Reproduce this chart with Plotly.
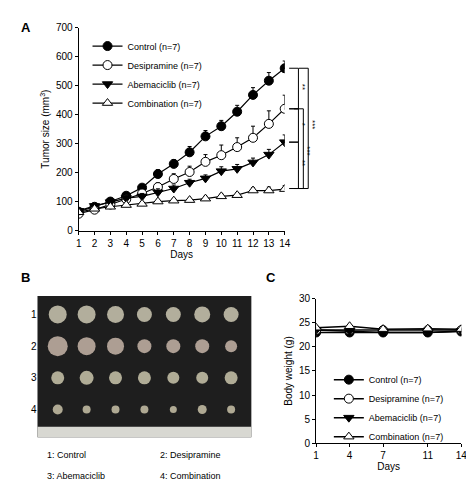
import plotly.graph_objects as go

days = list(range(1, 15))
control = [65, 82, 100, 120, 148, 195, 230, 270, 325, 360, 410, 468, 517, 560]
control_err = [8, 8, 8, 10, 10, 15, 15, 20, 20, 20, 22, 25, 28, 25]
desip = [58, 72, 90, 108, 128, 150, 178, 202, 237, 260, 288, 320, 368, 420]
desip_err = [8, 8, 8, 10, 12, 15, 18, 20, 25, 35, 32, 40, 45, 47]
abema = [68, 85, 98, 112, 118, 132, 145, 165, 180, 205, 213, 235, 262, 305]
abema_err = [8, 8, 8, 10, 10, 12, 12, 12, 12, 15, 15, 15, 18, 25]
comb = [63, 75, 82, 88, 92, 100, 103, 105, 110, 118, 122, 138, 138, 143]
comb_err = [6, 6, 6, 6, 6, 6, 6, 6, 8, 8, 8, 10, 12, 12]

bw_days = [1, 4, 7, 11, 14]
bw_control = [23.0, 23.0, 23.0, 23.0, 23.2]
bw_desip = [23.5, 23.5, 23.5, 23.5, 23.5]
bw_abema = [23.5, 23.3, 23.0, 23.0, 23.3]
bw_comb = [24.0, 24.3, 23.7, 23.8, 23.7]

names = ["Control (n=7)", "Desipramine (n=7)", "Abemaciclib (n=7)", "Combination (n=7)"]
symbols = ["circle", "circle", "triangle-down", "triangle-up"]
fills = ["black", "white", "black", "white"]

tumor_cols = [1, 2, 3, 4, 5, 6, 7]
tumor_sizes = [
    [18, 18, 17, 15, 15, 16, 15],
    [20, 18, 17, 14, 14, 14, 12],
    [13, 14, 13, 13, 12, 12, 13],
    [10, 8, 8, 8, 7, 9, 8],
]
tumor_colors = ["#f1ebd2", "#ead4c4", "#eee8c9", "#ece4c4"]
captions = ["1: Control", "2: Desipramine", "3: Abemaciclib", "4: Combination"]

F = "Liberation Sans, Arial, sans-serif"
fig = go.Figure()

series = [(control, control_err), (desip, desip_err), (abema, abema_err), (comb, comb_err)]
for i, (v, e) in enumerate(series):
    fig.add_trace(go.Scatter(x=days, y=v, name=names[i], mode="lines+markers",
        error_y=dict(type="data", array=e, symmetric=False, arrayminus=[0]*len(e), color="black", thickness=1, width=2),
        line=dict(color="black", width=1.2),
        marker=dict(symbol=symbols[i], size=9, color=fills[i], line=dict(color="black", width=1)),
        xaxis="x", yaxis="y", legend="legend"))

for i, v in enumerate([bw_control, bw_desip, bw_abema, bw_comb]):
    fig.add_trace(go.Scatter(x=bw_days, y=v, name=names[i], mode="lines+markers",
        line=dict(color="black", width=1.5),
        marker=dict(symbol=symbols[i], size=9, color=fills[i], line=dict(color="black", width=1)),
        xaxis="x2", yaxis="y2", legend="legend2"))

for r, sizes in enumerate(tumor_sizes):
    fig.add_trace(go.Scatter(x=tumor_cols, y=[r + 1]*7, mode="markers", showlegend=False,
        marker=dict(size=sizes, color=tumor_colors[r], line=dict(width=0)),
        xaxis="x3", yaxis="y3"))

shapes = [
    dict(type="rect", xref="x3 domain", yref="y3 domain", x0=0, x1=1, y0=0, y1=1,
         fillcolor="#1e1e1e", line=dict(width=0), layer="below"),
    dict(type="rect", xref="x3 domain", yref="y3", x0=0, x1=1, y0=4.54, y1=4.877,
         fillcolor="#d8d8d2", line=dict(width=0)),
]
def br(xp, y0, y1):
    shapes.append(dict(type="line", xref="paper", yref="y", x0=xp, x1=xp, y0=y0, y1=y1, line=dict(width=1, color="black")))
    for yy in (y0, y1):
        shapes.append(dict(type="line", xref="paper", yref="y", x0=xp - 0.02, x1=xp, y0=yy, y1=yy, line=dict(width=1, color="black")))
br(293/474, 420, 560); br(293/474, 305, 420); br(293/474, 145, 305)
br(298/474, 145, 420); br(303/474, 145, 560)

ann = []
def t(x, y, s, size=10, bold=False, angle=0):
    ann.append(dict(x=x/474, y=1 - y/488, xref="paper", yref="paper", text=("<b>%s</b>" % s) if bold else s,
                    showarrow=False, font=dict(size=size, family=F, color="black"), textangle=angle,
                    xanchor="left" if angle == 0 else "center", yanchor="middle"))
t(8, 14, "A", 13, True); t(8, 270, "B", 13, True); t(258, 270, "C", 13, True)
t(35, 452, captions[0], 9); t(150, 452, captions[1], 9); t(35, 474, captions[2], 9); t(150, 474, captions[3], 9)
for xp, yp, s in [(297, 75, "**"), (297, 113, "*"), (297, 153, "**"), (302, 140, "***"), (308, 113, "***")]:
    t(xp, yp, s, 8, False, 90)

ax = dict(showline=True, linecolor="black", linewidth=1, ticks="outside", ticklen=3, tickcolor="black",
          showgrid=False, zeroline=False, tickfont=dict(size=10, family=F, color="black"))
tf = dict(size=10, family=F, color="black")
fig.update_layout(
    width=474, height=488, margin=dict(l=0, r=0, t=0, b=0), plot_bgcolor="white", paper_bgcolor="white",
    font=dict(family=F, color="black"),
    xaxis=dict(ax, domain=[69/474, 279/474], range=[1, 14], tickvals=days, anchor="y",
               title=dict(text="Days", font=tf, standoff=2)),
    yaxis=dict(ax, domain=[1-222/488, 1-14/488], range=[0, 700], dtick=100, anchor="x",
               title=dict(text="Tumor size (mm<sup>3</sup>)", font=tf, standoff=4)),
    xaxis2=dict(ax, domain=[311/474, 459/474], range=[1, 14], tickvals=bw_days, anchor="y2",
                title=dict(text="Days", font=tf, standoff=2)),
    yaxis2=dict(ax, domain=[1-440/488, 1-292/488], range=[0, 30], dtick=5, anchor="x2",
                title=dict(text="Body weight (g)", font=tf, standoff=4)),
    xaxis3=dict(domain=[27/474, 245/474], range=[0.3, 7.7], visible=False, anchor="y3"),
    yaxis3=dict(domain=[1-434/488, 1-289/488], range=[4.877, 0.415], tickvals=[1, 2, 3, 4],
                showline=False, showgrid=False, zeroline=False, ticks="", anchor="x3",
                tickfont=dict(size=10, family=F, color="black")),
    legend=dict(x=78/474, y=1-18/488, xanchor="left", yanchor="top", bgcolor="rgba(0,0,0,0)",
                font=dict(size=9, family=F, color="black"), tracegroupgap=0, itemwidth=30),
    legend2=dict(x=324/474, y=1-360/488, xanchor="left", yanchor="top", bgcolor="rgba(0,0,0,0)",
                 font=dict(size=9, family=F, color="black"), tracegroupgap=0, itemwidth=30),
    shapes=shapes, annotations=ann, showlegend=True,
)
fig.write_html("out.html")
